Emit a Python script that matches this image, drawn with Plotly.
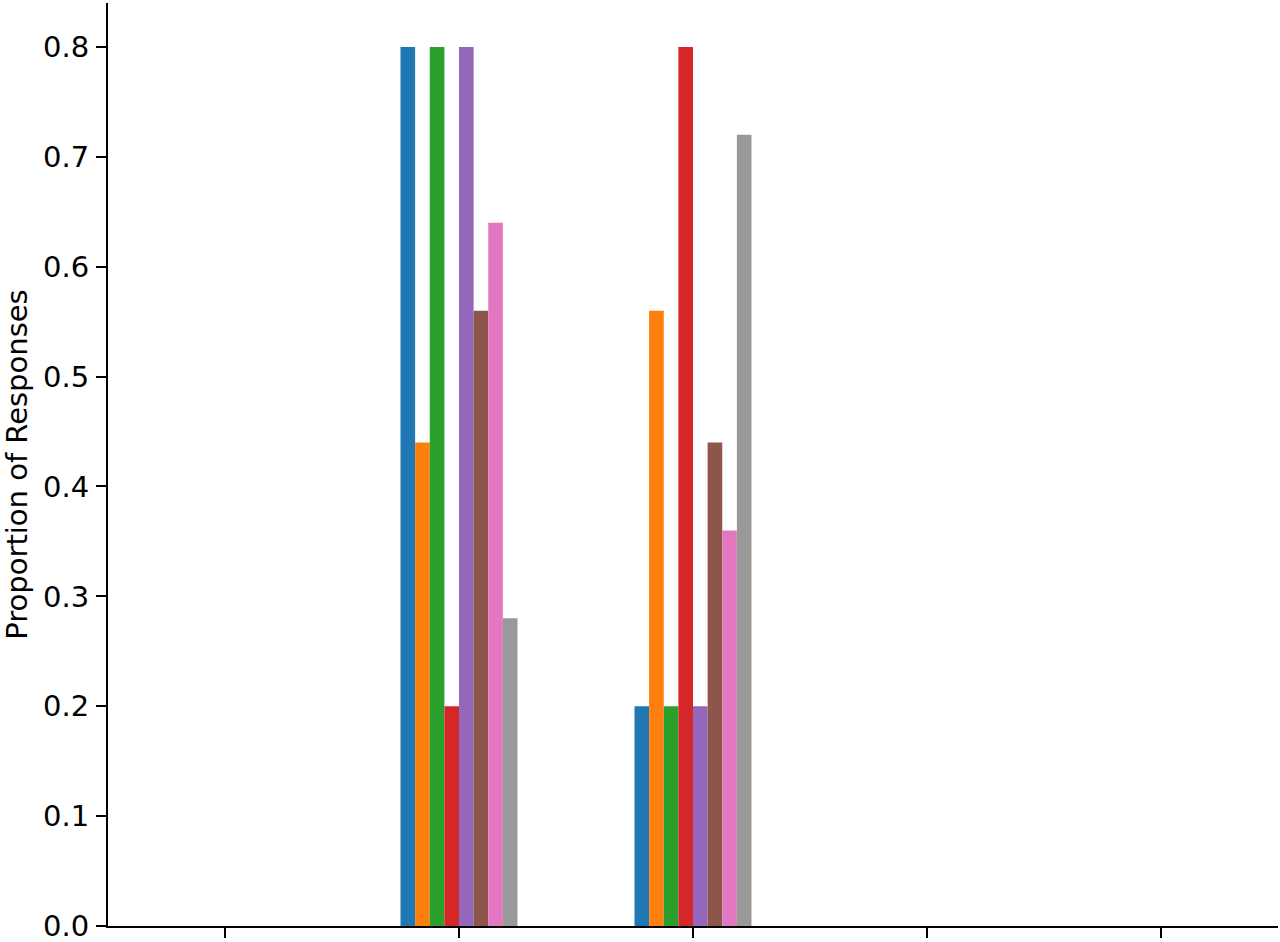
import plotly.graph_objects as go

# category slots on the x axis (no tick labels in the original)
category_ticks = [0, 1, 2, 3, 4]
group_positions = [1, 2]

# bar heights, one list per series (two groups each)
series_1 = [0.80, 0.20]
series_2 = [0.44, 0.56]
series_3 = [0.80, 0.20]
series_4 = [0.20, 0.80]
series_5 = [0.80, 0.20]
series_6 = [0.56, 0.44]
series_7 = [0.64, 0.36]
series_8 = [0.28, 0.72]

y_ticks = [0.0, 0.1, 0.2, 0.3, 0.4, 0.5, 0.6, 0.7, 0.8]

all_series = [series_1, series_2, series_3, series_4,
              series_5, series_6, series_7, series_8]
colors = ["#1f77b4", "#ff7f0e", "#2ca02c", "#d62728",
          "#9467bd", "#8c564b", "#e377c2", "#999999"]

fig = go.Figure()
for i, (vals, col) in enumerate(zip(all_series, colors)):
    fig.add_trace(go.Bar(
        x=group_positions,
        y=vals,
        name=f"Series {i + 1}",
        marker=dict(color=col, line=dict(width=0)),
    ))

axis_font = dict(family="DejaVu Sans", size=29, color="black")

fig.update_layout(
    width=1280,
    height=942,
    barmode="group",
    bargap=0.5,
    bargroupgap=0,
    showlegend=False,
    plot_bgcolor="white",
    paper_bgcolor="white",
    margin=dict(l=108, r=2, t=3, b=16),
    font=axis_font,
)

fig.update_xaxes(
    range=[-0.5, 4.5],
    tickvals=category_ticks,
    showticklabels=False,
    ticks="outside",
    ticklen=10,
    tickwidth=2.2,
    tickcolor="black",
    showline=True,
    linecolor="black",
    linewidth=2.2,
    showgrid=False,
    zeroline=False,
    automargin=False,
)

fig.update_yaxes(
    range=[0, 0.84],
    tickvals=y_ticks,
    tickformat=".1f",
    ticks="outside",
    ticklen=10,
    tickwidth=2.2,
    tickcolor="black",
    ticklabelstandoff=1,
    ticklabeloverflow="allow",
    showline=True,
    linecolor="black",
    linewidth=2.2,
    showgrid=False,
    zeroline=False,
    automargin=False,
    title=dict(text="Proportion of Responses", font=axis_font, standoff=14),
)

# drop the default page margin so the figure sits at the window's corner
fig.write_html(
    "out.html",
    config={"displayModeBar": False},
    post_script="document.body.style.margin='0';",
)
